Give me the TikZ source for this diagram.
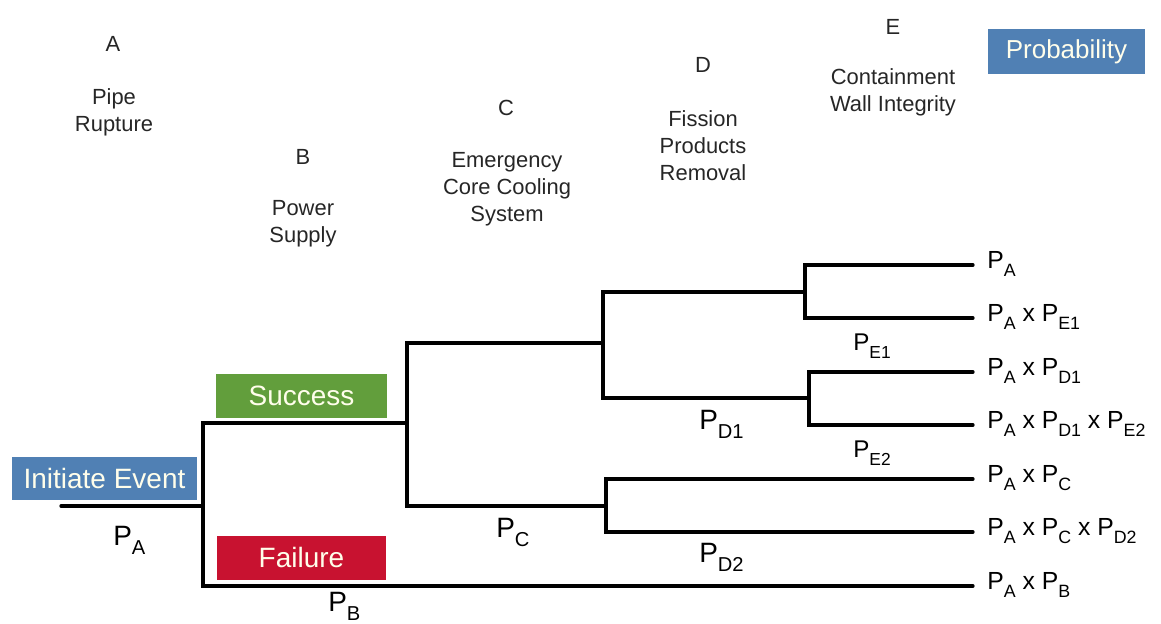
\documentclass[tikz,border=0pt]{standalone}
\usepackage{fontspec}
\setmainfont{Liberation Sans}
\usepackage{graphicx}
\definecolor{evblue}{RGB}{80,128,180}
\definecolor{okgreen}{RGB}{98,158,60}
\definecolor{failred}{RGB}{200,18,48}
\newcommand{\psub}[1]{P\raisebox{-0.32em}{\scalebox{0.72}{#1}}}
\begin{document}
\begin{tikzpicture}[line cap=round,line join=miter,x=1.0cm,y=1.0cm,scale=1,
	treeline/.style={line width=2.3pt},
	colhead/.style={align=center,font=\fontsize{15.6}{19.2}\selectfont,text=black!85},
	tagbox/.style={font=\fontsize{19.9}{22}\selectfont,text=white!92!yellow,inner sep=0pt},
	bigp/.style={anchor=base west,inner sep=0pt,font=\fontsize{19.9}{22}\selectfont},
	smallp/.style={anchor=base west,inner sep=0pt,font=\fontsize{17.2}{19}\selectfont},
	outcome/.style={anchor=mid west,inner xsep=0.35cm,inner ysep=0pt,font=\fontsize{17.6}{20}\selectfont}]
	\useasboundingbox (0,0) rectangle (29.025,15.6);
	% column headings
	\node[colhead] (hA) at (2.825,14.5) {A};
	\node[colhead] (tA) at (2.85,12.8) {Pipe\\Rupture};
	\node[colhead] (hB) at (7.575,11.675) {B};
	\node[colhead] (tB) at (7.575,10.0) {Power\\Supply};
	\node[colhead] (hC) at (12.65,12.9) {C};
	\node[colhead] (tC) at (12.675,10.875) {Emergency\\Core Cooling\\System};
	\node[colhead] (hD) at (17.575,13.975) {D};
	\node[colhead] (tD) at (17.575,11.95) {Fission\\Products\\Removal};
	\node[colhead] (hE) at (22.325,14.925) {E};
	\node[colhead] (tE) at (22.325,13.29) {Containment\\Wall Integrity};
	% coloured boxes
	\node[tagbox,fill=evblue,minimum width=3.925cm,minimum height=1.125cm] (prob) at (26.6625,14.3125) {\fontsize{18.5}{22}\selectfont Probability};
	\node[tagbox,fill=evblue,minimum width=4.625cm,minimum height=1.075cm] (init) at (2.6125,3.6375) {Initiate Event};
	\node[tagbox,fill=okgreen,minimum width=4.275cm,minimum height=1.1cm] (succ) at (7.5375,5.7) {Success};
	\node[tagbox,fill=failred,minimum width=4.225cm,minimum height=1.1cm] (fail) at (7.5375,1.65) {Failure};
	% branch points
	\coordinate (start) at (1.525,2.95);
	\coordinate (sB) at (5.075,2.95);
	\coordinate (sC) at (10.175,5.025);
	\coordinate (sD1) at (15.075,7.025);
	\coordinate (sD2) at (15.15,2.95);
	\coordinate (sE1) at (20.125,8.3);
	\coordinate (sE2) at (20.225,5.65);
	% outcomes
	\node[outcome] (o1) at (24.325,8.975) {\psub{A}};
	\node[outcome] (o2) at (24.325,7.65) {\psub{A} x \psub{E1}};
	\node[outcome] (o3) at (24.325,6.3) {\psub{A} x \psub{D1}};
	\node[outcome] (o4) at (24.325,4.975) {\psub{A} x \psub{D1} x \psub{E2}};
	\node[outcome] (o5) at (24.325,3.625) {\psub{A} x \psub{C}};
	\node[outcome] (o6) at (24.325,2.3) {\psub{A} x \psub{C} x \psub{D2}};
	\node[outcome] (o7) at (24.325,0.95) {\psub{A} x \psub{B}};
	% tree
	\draw[treeline] (start) -- (sB);
	\draw[treeline] (sB) |- (sC);
	\draw[treeline] (sB) |- (o7.mid west);
	\draw[treeline] (sC) |- (sD1);
	\draw[treeline] (sC) |- (sD2);
	\draw[treeline] (sD1) |- (sE1);
	\draw[treeline] (sD1) |- (sE2);
	\draw[treeline] (sE1) |- (o1.mid west);
	\draw[treeline] (sE1) |- (o2.mid west);
	\draw[treeline] (sE2) |- (o3.mid west);
	\draw[treeline] (sE2) |- (o4.mid west);
	\draw[treeline] (sD2) |- (o5.mid west);
	\draw[treeline] (sD2) |- (o6.mid west);
	% branch probabilities
	\node[bigp] (pA) at (2.825,1.95) {\psub{A}};
	\node[bigp] (pB) at (8.2,0.32) {\psub{B}};
	\node[bigp] (pC) at (12.4,2.15) {\psub{C}};
	\node[bigp] (pD1) at (17.475,4.85) {\psub{D1}};
	\node[bigp] (pD2) at (17.475,1.525) {\psub{D2}};
	\node[smallp] (pE1) at (21.325,6.825) {\psub{E1}};
	\node[smallp] (pE2) at (21.325,4.15) {\psub{E2}};
\end{tikzpicture}
\end{document}
